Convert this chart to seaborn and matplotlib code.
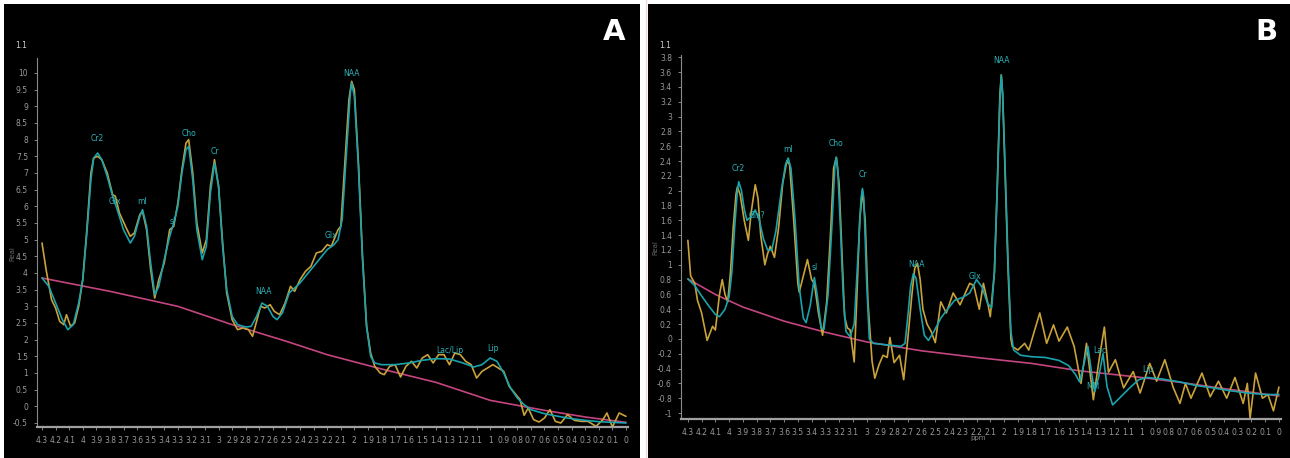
import numpy as np
import pandas as pd
import matplotlib
matplotlib.use('Agg')
import matplotlib.pyplot as plt
import seaborn as sns

sns.set_style('dark')
plt.rcParams['font.family'] = ['DejaVu Sans']

# ---- panel A readings (ppm, signal) ----
a_fit_ppm = [4.30, 4.25, 4.20, 4.15, 4.11, 4.07, 4.03, 4.00, 3.97, 3.94, 3.92, 3.89, 3.86, 3.82,
             3.78, 3.75, 3.70, 3.65, 3.62, 3.58, 3.56, 3.53, 3.50, 3.47, 3.44, 3.40, 3.36, 3.33,
             3.30, 3.27, 3.24, 3.22, 3.19, 3.16, 3.12, 3.09, 3.06, 3.03, 3.00, 2.97, 2.94, 2.90,
             2.86, 2.80, 2.76, 2.72, 2.68, 2.64, 2.60, 2.57, 2.53, 2.48, 2.44, 2.40, 2.35, 2.30,
             2.25, 2.20, 2.15, 2.12, 2.09, 2.06, 2.03, 2.02, 2.00, 1.97, 1.94, 1.91, 1.88, 1.85,
             1.80, 1.70, 1.60, 1.50, 1.40, 1.30, 1.20, 1.12, 1.06, 1.00, 0.95, 0.90, 0.85, 0.80,
             0.75, 0.70, 0.60, 0.50, 0.40, 0.30, 0.20, 0.10, 0.00]
a_fit_val = [3.85, 3.6, 3.1, 2.6, 2.3, 2.45, 3.1, 3.8, 5.2, 6.8, 7.45, 7.6, 7.4, 6.9,
             6.3, 5.95, 5.3, 4.9, 5.1, 5.7, 5.9, 5.4, 4.3, 3.35, 3.6, 4.4, 5.1, 5.5,
             6.0, 7.0, 7.7, 7.8, 6.8, 5.3, 4.4, 4.8, 6.4, 7.3, 6.6, 4.8, 3.5, 2.7,
             2.45, 2.38, 2.4, 2.7, 3.1, 3.0, 2.7, 2.6, 2.8, 3.4, 3.55, 3.7, 3.95, 4.2,
             4.45, 4.7, 4.85, 5.0, 5.6, 7.5, 9.4, 9.7, 9.3, 7.2, 4.4, 2.4, 1.5, 1.3,
             1.25, 1.25, 1.3, 1.38, 1.43, 1.42, 1.3, 1.18, 1.25, 1.45, 1.35, 1.0, 0.55, 0.25,
             0.05, -0.1, -0.22, -0.3, -0.37, -0.42, -0.46, -0.48, -0.5]

a_raw_ppm = [4.30, 4.27, 4.23, 4.20, 4.17, 4.14, 4.12, 4.09, 4.06, 4.03, 4.00, 3.97, 3.94, 3.92,
             3.89, 3.86, 3.82, 3.78, 3.76, 3.73, 3.68, 3.65, 3.62, 3.58, 3.56, 3.53, 3.50, 3.47,
             3.44, 3.40, 3.36, 3.33, 3.30, 3.27, 3.24, 3.22, 3.19, 3.16, 3.12, 3.09, 3.06, 3.03,
             3.00, 2.97, 2.94, 2.90, 2.86, 2.82, 2.78, 2.75, 2.72, 2.69, 2.66, 2.62, 2.59, 2.55,
             2.51, 2.47, 2.44, 2.40, 2.36, 2.32, 2.28, 2.24, 2.20, 2.17, 2.14, 2.12, 2.10, 2.07,
             2.04, 2.02, 2.00, 1.97, 1.94, 1.91, 1.88, 1.85, 1.81, 1.78, 1.74, 1.70, 1.66, 1.62,
             1.58, 1.54, 1.50, 1.46, 1.42, 1.38, 1.34, 1.30, 1.26, 1.22, 1.18, 1.14, 1.10, 1.06,
             1.02, 0.98, 0.94, 0.90, 0.86, 0.82, 0.78, 0.75, 0.72, 0.68, 0.64, 0.60, 0.56, 0.52,
             0.48, 0.43, 0.38, 0.33, 0.28, 0.22, 0.17, 0.14, 0.10, 0.05, 0.00]
a_raw_val = [4.9, 4.1, 3.2, 2.95, 2.55, 2.45, 2.75, 2.4, 2.5, 3.0, 3.8, 5.3, 7.0, 7.45,
             7.5, 7.4, 7.0, 6.35, 6.3, 5.8, 5.35, 5.1, 5.2, 5.75, 5.85, 5.3, 4.1, 3.25,
             3.8, 4.3, 5.3, 5.4, 6.1, 7.1, 7.9, 8.0, 7.0, 5.5, 4.6, 5.0, 6.6, 7.4,
             6.6, 4.9, 3.4, 2.6, 2.3, 2.35, 2.3, 2.1, 2.55, 3.0, 2.95, 3.05, 2.85, 2.75,
             3.1, 3.6, 3.45, 3.8, 4.05, 4.2, 4.6, 4.65, 4.85, 4.8, 5.1, 5.3, 5.4, 7.3,
             9.2, 9.75, 9.5, 7.3, 4.5, 2.4, 1.6, 1.2, 1.0, 0.95, 1.2, 1.25, 0.88, 1.2,
             1.35, 1.15, 1.45, 1.55, 1.3, 1.55, 1.55, 1.25, 1.6, 1.55, 1.35, 1.25, 0.85, 1.05,
             1.15, 1.25, 1.15, 1.05, 0.6, 0.4, 0.2, -0.27, -0.05, -0.4, -0.47, -0.35, -0.1, -0.45,
             -0.5, -0.25, -0.42, -0.45, -0.45, -0.6, -0.4, -0.2, -0.62, -0.2, -0.3]

a_base_ppm = [4.3, 3.8, 3.3, 2.9, 2.5, 2.2, 1.8, 1.4, 1.0, 0.6, 0.3, 0.0]
a_base_val = [3.85, 3.45, 3.0, 2.45, 1.95, 1.55, 1.12, 0.72, 0.18, -0.12, -0.32, -0.48]

a_labels = ['Cr2', 'Glx', 'mI', 'sI', 'Cho', 'Cr', 'NAA', 'Glx', 'NAA', 'Lac/Lip', 'Lip']
a_label_ppm = [3.89, 3.76, 3.56, 3.34, 3.22, 3.03, 2.67, 2.17, 2.02, 1.30, 0.98]
a_label_val = [7.9, 6.0, 6.0, 5.4, 8.05, 7.5, 3.3, 5.0, 9.85, 1.55, 1.6]

# ---- panel B readings (ppm, signal) ----
b_fit_ppm = [4.30, 4.25, 4.20, 4.15, 4.10, 4.07, 4.03, 4.00, 3.98, 3.96, 3.94, 3.93, 3.91, 3.89,
             3.87, 3.84, 3.81, 3.78, 3.75, 3.72, 3.69, 3.66, 3.62, 3.59, 3.57, 3.55, 3.52, 3.49,
             3.46, 3.44, 3.41, 3.38, 3.36, 3.33, 3.31, 3.28, 3.25, 3.23, 3.22, 3.21, 3.19, 3.17,
             3.15, 3.12, 3.09, 3.06, 3.04, 3.03, 3.02, 3.00, 2.98, 2.95, 2.85, 2.75, 2.72, 2.70,
             2.68, 2.66, 2.64, 2.61, 2.58, 2.55, 2.51, 2.46, 2.42, 2.36, 2.30, 2.25, 2.20, 2.16,
             2.12, 2.09, 2.07, 2.05, 2.03, 2.02, 2.01, 1.99, 1.97, 1.95, 1.93, 1.88, 1.80, 1.70,
             1.60, 1.53, 1.48, 1.45, 1.42, 1.39, 1.36, 1.34, 1.31, 1.28, 1.25, 1.21, 1.15, 1.08,
             1.02, 0.96, 0.85, 0.72, 0.60, 0.48, 0.35, 0.23, 0.10, 0.00]
b_fit_val = [0.81, 0.72, 0.58, 0.45, 0.33, 0.3, 0.4, 0.57, 0.9, 1.5, 2.0, 2.12, 2.0, 1.75,
             1.6, 1.65, 1.74, 1.6, 1.35, 1.2, 1.2, 1.45, 2.0, 2.35, 2.44, 2.3, 1.6, 0.7,
             0.28, 0.22, 0.45, 0.83, 0.6, 0.15, 0.13, 0.6, 1.6, 2.35, 2.45, 2.3, 1.5, 0.6,
             0.1, 0.03, 0.2, 1.2, 1.9, 2.03, 1.9, 0.8, 0.0, -0.06, -0.08, -0.1, -0.06, 0.3,
             0.7, 0.88, 0.82, 0.4, 0.05, -0.02, 0.1, 0.28, 0.38, 0.52, 0.56, 0.62, 0.8, 0.7,
             0.48, 0.42, 0.9, 2.0, 3.2, 3.56, 3.3, 2.2, 1.0, 0.1, -0.15, -0.22, -0.24, -0.25,
             -0.29, -0.36, -0.48, -0.58, -0.35, -0.1, -0.5, -0.71, -0.5, -0.2, -0.65, -0.89, -0.78, -0.65,
             -0.55, -0.52, -0.54, -0.58, -0.63, -0.66, -0.7, -0.73, -0.75, -0.75]

b_raw_ppm = [4.30, 4.28, 4.25, 4.23, 4.20, 4.16, 4.12, 4.10, 4.07, 4.05, 4.03, 4.01, 3.99, 3.97,
             3.95, 3.94, 3.92, 3.89, 3.86, 3.84, 3.81, 3.79, 3.77, 3.74, 3.72, 3.70, 3.67, 3.64,
             3.61, 3.58, 3.56, 3.53, 3.50, 3.49, 3.46, 3.43, 3.40, 3.38, 3.35, 3.32, 3.29, 3.26,
             3.24, 3.22, 3.20, 3.18, 3.16, 3.14, 3.12, 3.09, 3.07, 3.05, 3.03, 3.01, 2.99, 2.96,
             2.94, 2.91, 2.88, 2.85, 2.83, 2.80, 2.76, 2.73, 2.70, 2.67, 2.65, 2.63, 2.61, 2.59,
             2.56, 2.53, 2.50, 2.46, 2.42, 2.37, 2.32, 2.25, 2.22, 2.18, 2.15, 2.12, 2.10, 2.07,
             2.05, 2.03, 2.02, 2.01, 1.99, 1.97, 1.95, 1.94, 1.90, 1.85, 1.82, 1.74, 1.69, 1.64,
             1.60, 1.54, 1.49, 1.44, 1.40, 1.35, 1.31, 1.27, 1.24, 1.19, 1.13, 1.06, 1.01, 0.94,
             0.89, 0.83, 0.77, 0.72, 0.68, 0.64, 0.56, 0.50, 0.44, 0.38, 0.32, 0.26, 0.23, 0.21,
             0.17, 0.12, 0.08, 0.04, 0.00]
b_raw_val = [1.33, 0.85, 0.75, 0.52, 0.35, -0.02, 0.17, 0.12, 0.6, 0.8, 0.6, 0.5, 0.9, 1.5,
             1.95, 2.05, 1.95, 1.6, 1.33, 1.7, 2.08, 1.9, 1.4, 1.0, 1.15, 1.25, 1.1, 1.5,
             2.1, 2.4, 2.35, 1.6, 0.75, 0.63, 0.85, 1.07, 0.8, 0.75, 0.35, 0.05, 0.5, 1.5,
             2.3, 2.45, 2.1, 1.2, 0.3, 0.15, 0.12, -0.31, 0.6, 1.6, 2.0, 1.6, 0.5, -0.3,
             -0.53, -0.35, -0.22, -0.25, 0.02, -0.32, -0.22, -0.55, 0.0, 0.6, 0.95, 1.02, 0.8, 0.4,
             0.2, 0.1, -0.05, 0.5, 0.35, 0.62, 0.46, 0.75, 0.72, 0.4, 0.75, 0.5, 0.3, 0.9,
             2.0, 3.3, 3.56, 3.3, 2.1, 0.9, 0.0, -0.1, -0.15, -0.06, -0.15, 0.35, -0.06, 0.19,
             -0.03, 0.16, -0.1, -0.6, -0.06, -0.82, -0.3, 0.16, -0.45, -0.28, -0.66, -0.44, -0.73, -0.33,
             -0.57, -0.28, -0.65, -0.87, -0.6, -0.8, -0.46, -0.78, -0.57, -0.8, -0.52, -0.87, -0.6, -1.07,
             -0.46, -0.8, -0.75, -0.97, -0.65]

b_base_ppm = [4.3, 4.1, 3.9, 3.6, 3.3, 3.0, 2.6, 2.2, 1.8, 1.45, 1.0, 0.7, 0.4, 0.0]
b_base_val = [0.81, 0.6, 0.43, 0.24, 0.09, -0.04, -0.16, -0.25, -0.33, -0.43, -0.52, -0.59, -0.67, -0.77]

b_labels = ['Cr2', 'Glx?', 'mI', 'sI', 'Cho', 'Cr', 'NAA', 'Glx', 'NAA', 'Lac', 'MM', 'Lip']
b_label_ppm = [3.93, 3.80, 3.57, 3.38, 3.22, 3.03, 2.64, 2.21, 2.02, 1.30, 1.35, 0.95]
b_label_val = [2.24, 1.6, 2.5, 0.9, 2.57, 2.16, 0.94, 0.78, 3.7, -0.22, -0.7, -0.47]

a_yticks = np.round(np.arange(-0.5, 10.01, 0.5), 1)
b_yticks = np.round(np.arange(-1.0, 3.81, 0.2), 1)
xticks = np.round(np.arange(0, 4.31, 0.1), 1)

colors = {'raw': '#c9a23a', 'fit': '#1aa3ad', 'base': '#c4457f'}


def make_df(fit_x, fit_y, raw_x, raw_y, base_x, base_y):
    parts = []
    for name, x, y in [('base', base_x, base_y), ('raw', raw_x, raw_y), ('fit', fit_x, fit_y)]:
        parts.append(pd.DataFrame({'ppm': x, 'val': y, 'curve': name}))
    return pd.concat(parts, ignore_index=True)


def fmt(t):
    return '%g' % (t + 0.0)


W, H = 1290, 458
fig = plt.figure(figsize=(W / 100, H / 100), dpi=100)
fig.patch.set_facecolor('white')

# black panel backgrounds
for x0, x1 in [(4, 640), (648, 1290)]:
    bg = fig.add_axes([x0 / W, 0, (x1 - x0) / W, (H - 4) / H])
    bg.set_facecolor('black')
    bg.set_xticks([])
    bg.set_yticks([])
    for s in bg.spines.values():
        s.set_visible(False)
    bg.set_zorder(0)


def panel(rect, df, xlim, ylim, yticks, labels, lab_x, lab_y, letter, letter_x, extra_x):
    l, r, top, bot = rect
    ax = fig.add_axes([l / W, (H - bot) / H, (r - l) / W, (bot - top) / H])
    ax.set_zorder(1)
    ax.patch.set_alpha(0)
    sns.lineplot(data=df, x='ppm', y='val', hue='curve', palette=colors,
                 estimator=None, sort=False, legend=False, linewidth=1.2, ax=ax)
    ax.set_xlim(*xlim)
    ax.set_ylim(*ylim)
    ax.set_xticks(xticks)
    ax.set_xticklabels([fmt(t) for t in xticks])
    ax.set_yticks(yticks)
    ax.set_yticklabels([fmt(t) for t in yticks])
    ax.tick_params(colors='#9a9a9a', labelsize=5.5, length=2.5, width=0.6,
                   direction='out', bottom=True, left=True, pad=4)
    ax.grid(False)
    for s in ['top', 'right']:
        ax.spines[s].set_visible(False)
    ax.spines['left'].set_color('#8a8a8a')
    ax.spines['left'].set_linewidth(0.8)
    ax.spines['bottom'].set_color('#a0a0a0')
    ax.spines['bottom'].set_linewidth(1.6)
    ax.set_xlabel('')
    ax.set_ylabel('Real', color='#666666', fontsize=5)
    ax.yaxis.set_label_coords(-0.037, 0.47)
    for t, x, y in zip(labels, lab_x, lab_y):
        ax.text(x, y, t, color='#2bb3bb', fontsize=5.5, ha='center', va='bottom')
    fig.text((l - 22) / W, (H - 48) / H, '1.1', color='#d0d0d0', fontsize=5.5)
    fig.text(letter_x / W, (H - 32) / H, letter, color='white', fontsize=21,
             fontweight='bold', ha='center', va='center')
    if extra_x:
        fig.text(extra_x / W, (H - 440) / H, 'ppm', color='#8a8a8a', fontsize=5)
    return ax


df_a = make_df(a_fit_ppm, a_fit_val, a_raw_ppm, a_raw_val, a_base_ppm, a_base_val)
df_b = make_df(b_fit_ppm, b_fit_val, b_raw_ppm, b_raw_val, b_base_ppm, b_base_val)

panel((37, 628, 58, 427), df_a, (4.337, -0.015), (-0.62, 10.45), a_yticks,
      a_labels, a_label_ppm, a_label_val, 'A', 614, None)
panel((681, 1281, 55, 419), df_b, (4.35, -0.015), (-1.08, 3.83), b_yticks,
      b_labels, b_label_ppm, b_label_val, 'B', 1266, 970)

# thin pinkish edge on the left of panel B
fig.add_artist(plt.Line2D([646 / W, 646 / W], [0, 1], color='#f0d8d8', linewidth=1))

fig.savefig('out.png', dpi=100, facecolor='white')
